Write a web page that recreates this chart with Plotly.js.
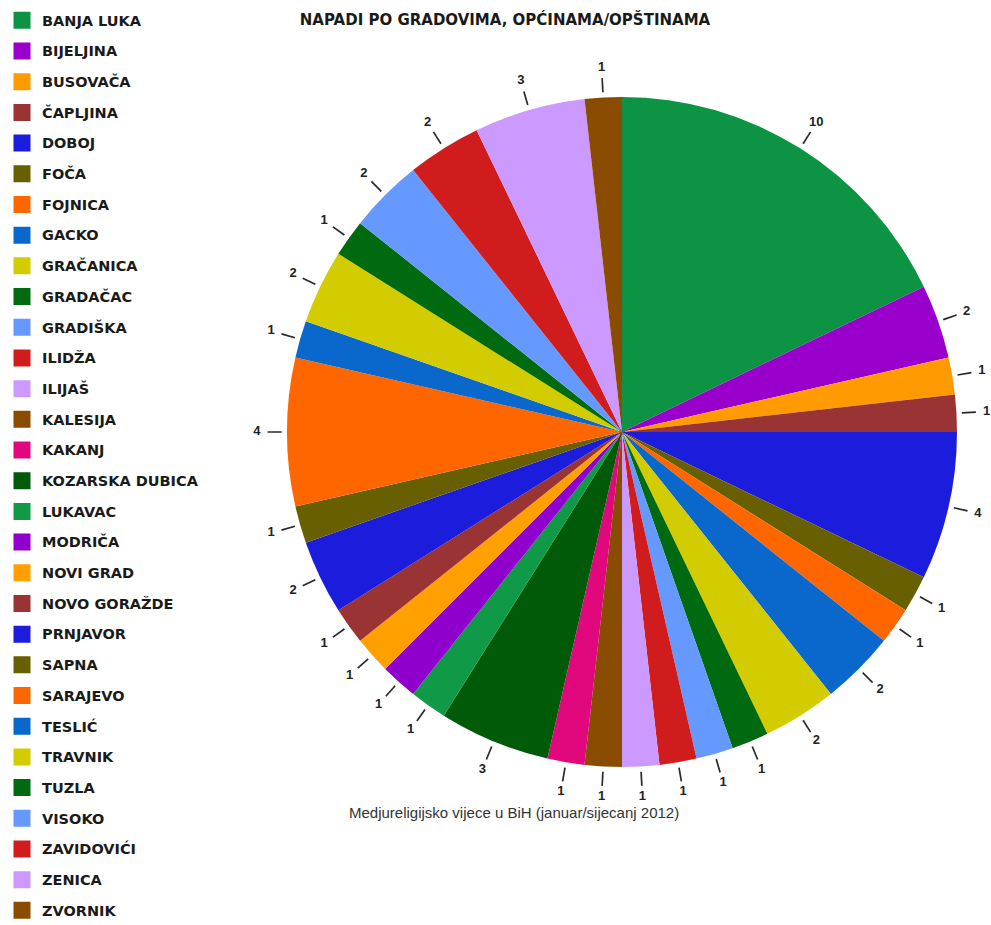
<!DOCTYPE html>
<html>
<head>
<meta charset="utf-8">
<script src="https://cdn.plot.ly/plotly-3.0.1.min.js"></script>
<style>
html,body{margin:0;padding:0;background:#ffffff;}
#chart{width:991px;height:925px;}
</style>
</head>
<body>
<div id="chart"></div>
<script>
// ---- data ----
const cities = [
  'BANJA LUKA','BIJELJINA','BUSOVAČA','ČAPLJINA','DOBOJ','FOČA','FOJNICA','GACKO',
  'GRAČANICA','GRADAČAC','GRADIŠKA','ILIDŽA','ILIJAŠ','KALESIJA','KAKANJ',
  'KOZARSKA DUBICA','LUKAVAC','MODRIČA','NOVI GRAD','NOVO GORAŽDE','PRNJAVOR',
  'SAPNA','SARAJEVO','TESLIĆ','TRAVNIK','TUZLA','VISOKO','ZAVIDOVIĆI','ZENICA','ZVORNIK'
];
const attacks = [10,2,1,1,4,1,1,2,2,1,1,1,1,1,1,3,1,1,1,1,2,1,4,1,2,1,2,2,3,1];
const sliceColors = [
  '#0c9444','#9a00cc','#ff9a00','#9a3333','#1c1cdc','#686000','#ff6600','#0a68cc',
  '#d2cc00','#006a10','#6699ff','#d01c1c','#cc99ff','#8a4c00','#e0087c',
  '#005a08','#109a48','#9000cc','#ffa000','#9a3333','#1c1cdc',
  '#686000','#ff6600','#0a68cc','#d2cc00','#006a10','#6699ff','#d01c1c','#cc99ff','#8a4c00'
];
const chartTitle = 'NAPADI PO GRADOVIMA, OPĆINAMA/OPŠTINAMA';
const sourceNote = 'Medjureligijsko vijece u BiH (januar/sijecanj 2012)';

// ---- layout geometry ----
const W = 991, H = 925;
const CX = 622, CY = 432, R = 335;      // pie centre and radius (px)
const RMAX = 1.1;                        // polar radial range (1 = pie edge)

const total = attacks.reduce((a, b) => a + b, 0);
let cum = 0;
const midAngles = attacks.map(v => { const m = (cum + v / 2) / total * 360; cum += v; return m; });

const tickR = [], tickT = [];
midAngles.forEach(a => { tickR.push(1.016, 1.058, null); tickT.push(a, a, null); });

const legendLabels = cities.map(c => '<span style="font-size:14.5px;baseline-shift:3px">' + c + '</span>');

const pieDomain = {
  x: [(CX - R) / W, (CX + R) / W],
  y: [(H - CY - R) / H, (H - CY + R) / H]
};
const RP = R * RMAX;
const polarDomain = {
  x: [(CX - RP) / W, Math.min(1, (CX + RP) / W)],
  y: [(H - CY - RP) / H, (H - CY + RP) / H]
};
const cxF = CX / W, cyF = (H - CY) / H;

const traces = [
  { // legend carrier (hidden under the main pie centre)
    type: 'pie', labels: legendLabels, values: attacks, sort: false,
    direction: 'clockwise', rotation: 0,
    marker: { colors: sliceColors, line: { color: sliceColors, width: 5 } },
    textinfo: 'none', hoverinfo: 'skip', showlegend: true,
    domain: { x: [cxF - 0.0001, cxF + 0.0001], y: [cyF - 0.0001, cyF + 0.0001] }
  },
  {
    type: 'pie', labels: legendLabels, values: attacks, sort: false,
    direction: 'clockwise', rotation: 0,
    marker: { colors: sliceColors, line: { width: 0 } },
    textinfo: 'none', text: cities, hoverinfo: 'text+value', showlegend: false,
    domain: pieDomain
  },
  {
    type: 'scatterpolar', mode: 'lines', r: tickR, theta: tickT,
    line: { color: '#2a2a2a', width: 1.7 }, hoverinfo: 'skip', showlegend: false,
    cliponaxis: false
  },
  {
    type: 'scatterpolar', mode: 'text', r: attacks.map(() => 1.09), theta: midAngles,
    text: attacks.map(String), textposition: 'middle center',
    textfont: { family: 'Liberation Sans, Arial, sans-serif', size: 13, color: '#222222', weight: 'bold' },
    hoverinfo: 'skip', showlegend: false, cliponaxis: false
  }
];

const layout = {
  width: W, height: H,
  margin: { l: 0, r: 0, t: 0, b: 0, pad: 0 },
  paper_bgcolor: '#ffffff', plot_bgcolor: '#ffffff',
  title: {
    text: chartTitle, xref: 'container', yref: 'container',
    x: 505 / W, xanchor: 'center', y: 1 - 20 / H, yanchor: 'middle',
    font: { family: 'DejaVu Sans, Verdana, sans-serif', size: 15, weight: 'bold', color: '#1a1a1a' }
  },
  legend: {
    x: 2 / W, xanchor: 'left', y: 1 - 3.6 / H, yanchor: 'top',
    maxheight: 2000,
    font: { family: 'DejaVu Sans, Verdana, sans-serif', size: 21.3, weight: 'bold', color: '#1a1a1a' },
    bgcolor: 'rgba(0,0,0,0)', borderwidth: 0, traceorder: 'normal'
  },
  polar: {
    domain: polarDomain, bgcolor: 'rgba(0,0,0,0)',
    radialaxis: { range: [0, RMAX], visible: false, showgrid: false },
    angularaxis: { rotation: 90, direction: 'clockwise', visible: false, showgrid: false }
  },
  annotations: [{
    text: sourceNote, xref: 'paper', yref: 'paper', x: 514 / W, y: 1 - 812 / H,
    xanchor: 'center', yanchor: 'middle', showarrow: false,
    font: { family: 'Liberation Sans, Arial, sans-serif', size: 15, color: '#333333' }
  }],
  showlegend: true
};

Plotly.newPlot('chart', traces, layout, { displayModeBar: false });
</script>
</body>
</html>
